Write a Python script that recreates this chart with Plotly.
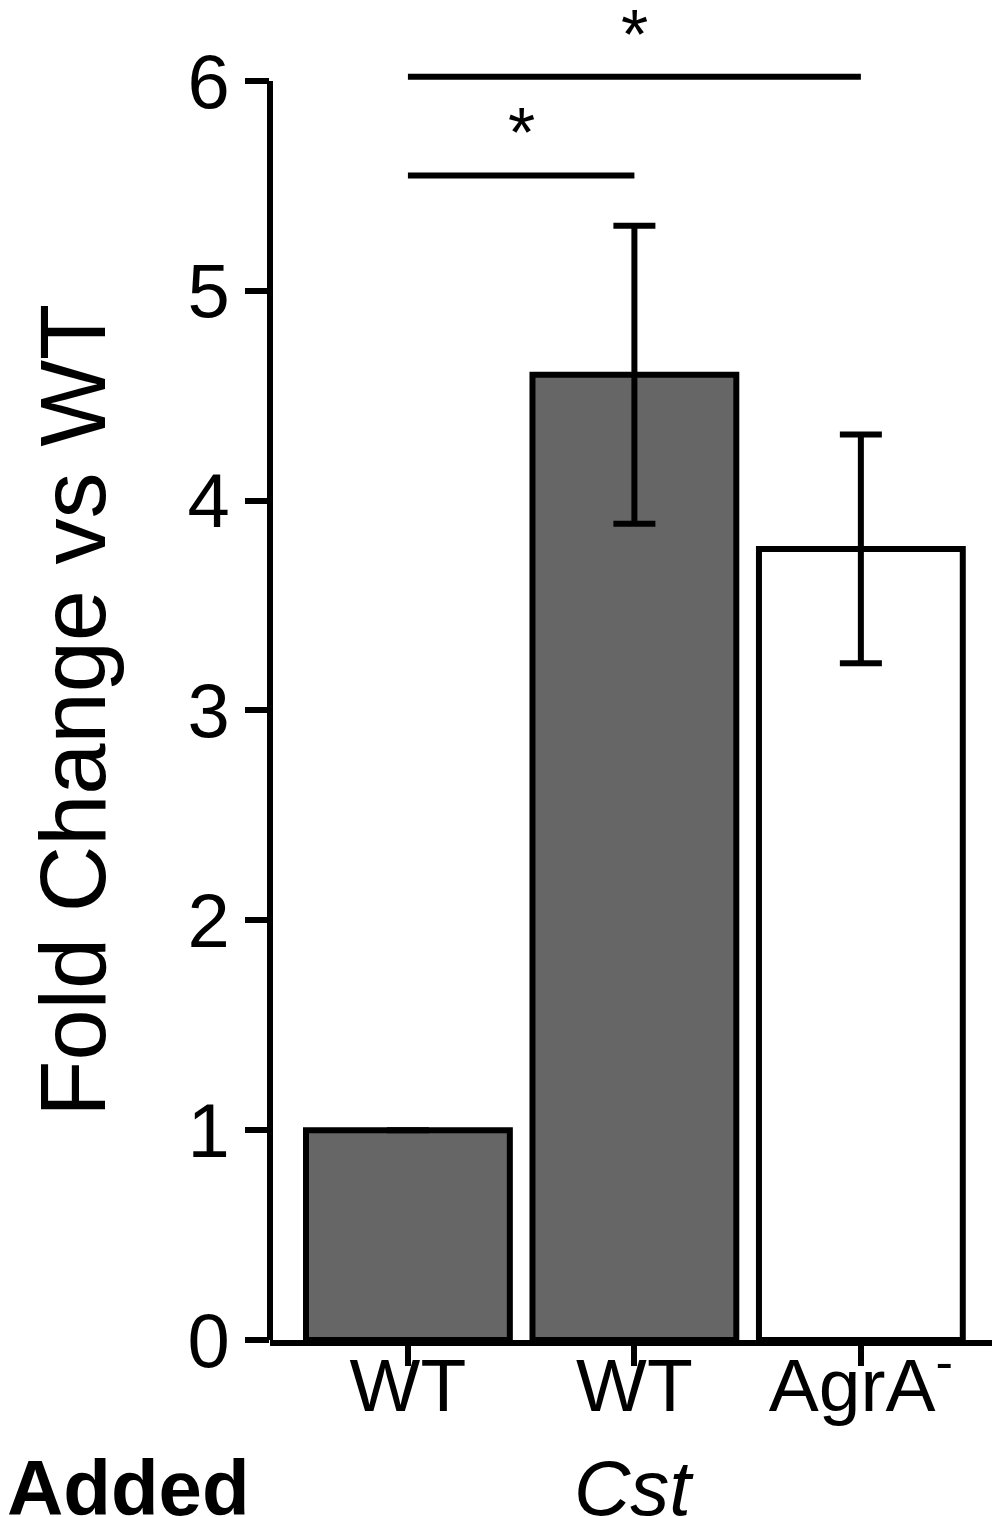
import plotly.graph_objects as go

categories = ["WT", "WT", "AgrA<sup>-</sup>"]
values = [1.0, 4.60, 3.77]
errors = [0.0, 0.71, 0.545]
bar_colors = ["#666666", "#666666", "#ffffff"]
y_ticks = [0, 1, 2, 3, 4, 5, 6]

# significance brackets: (from index, to index, height)
sig_pairs = [(0, 1, 5.55), (0, 2, 6.02)]
sig_labels = ["*", "*"]

FONT = "Liberation Sans, Arial, Helvetica, sans-serif"
x_idx = list(range(len(categories)))

fig = go.Figure()
fig.add_trace(go.Bar(
    x=x_idx, y=values, width=0.9,
    marker=dict(color=bar_colors, line=dict(color="black", width=6)),
    error_y=dict(type="data", array=errors, visible=True, color="black",
                 thickness=6, width=21),
    showlegend=False,
))

for i0, i1, h in sig_pairs:
    fig.add_shape(type="line", x0=i0, x1=i1, y0=h, y1=h, xref="x", yref="y",
                  line=dict(color="black", width=6))
for (i0, i1, h), lab in zip(sig_pairs, sig_labels):
    fig.add_annotation(x=(i0 + i1) / 2, y=h + 0.2, xref="x", yref="y",
                       text=lab, showarrow=False, yanchor="middle",
                       font=dict(family=FONT, size=70, color="black"))

# y axis line from 0 to 6
fig.add_shape(type="line", x0=0, x1=0, y0=0, y1=max(y_ticks), xref="paper", yref="y",
              line=dict(color="black", width=6))

fig.add_annotation(x=-0.268, y=3, xref="paper", yref="y", text="Fold Change vs WT",
                   textangle=-90, showarrow=False, xanchor="center", yanchor="middle",
                   font=dict(family=FONT, size=92, color="black"))
fig.add_annotation(x=-0.193, y=-0.112, xref="paper", yref="paper", text="<b>Added</b>",
                   showarrow=False, xanchor="center", yanchor="middle",
                   font=dict(family=FONT, size=78, color="black"))
fig.add_annotation(x=1, y=-0.112, xref="x", yref="paper", text="<i>Cst</i>",
                   showarrow=False, xanchor="center", yanchor="middle",
                   font=dict(family=FONT, size=78, color="black"))

fig.update_layout(
    width=1000, height=1517,
    margin=dict(l=262, r=4, t=10, b=185),
    paper_bgcolor="white", plot_bgcolor="white",
    xaxis=dict(range=[-0.609, 2.632], tickmode="array", tickvals=x_idx,
               ticktext=categories,
               showline=True, linecolor="black", linewidth=6,
               ticks="outside", ticklen=20, tickwidth=6, tickcolor="black",
               showgrid=False, zeroline=False, ticklabelstandoff=-45,
               tickfont=dict(family=FONT, size=75, color="black")),
    yaxis=dict(range=[0, 6.3], tickmode="array", tickvals=y_ticks,
               showline=False, ticks="outside", ticklen=24, tickwidth=6,
               tickcolor="black", showgrid=False, zeroline=False,
               tickfont=dict(family=FONT, size=76, color="black")),
)

fig.write_html("out.html")
